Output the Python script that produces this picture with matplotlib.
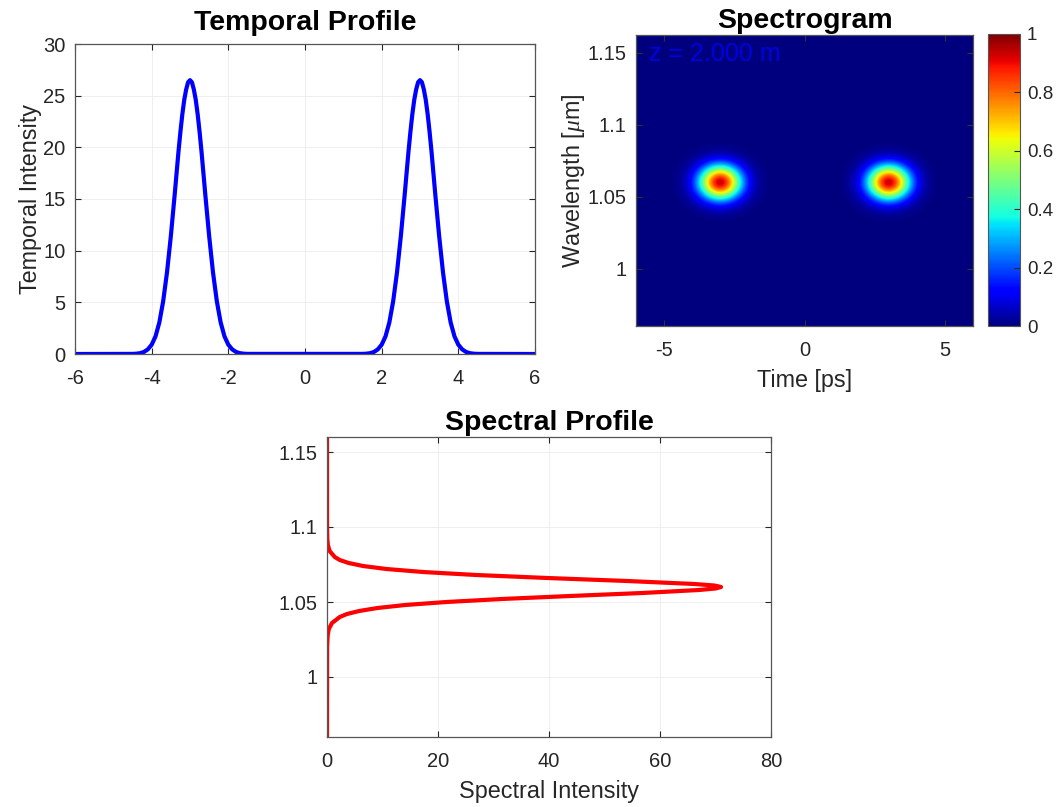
import numpy as np
import matplotlib
matplotlib.use("Agg")
import matplotlib.pyplot as plt
from matplotlib.ticker import FuncFormatter

# temporal profile: one pulse, repeated at both centers
pulse_centers = [-3.0, 3.0]
pulse_dt = [0.0, 0.05, 0.1, 0.15, 0.2, 0.25, 0.3, 0.4, 0.5, 0.6, 0.7, 0.8, 0.9, 1.0, 1.1, 1.2, 1.3, 1.4, 1.5]
pulse_val = [26.5, 26.3, 25.6, 24.6, 23.2, 21.5, 19.6, 15.4, 11.4, 7.9, 5.1, 3.05, 1.7, 0.9, 0.45, 0.2, 0.08, 0.03, 0.01]

# spectral profile (wavelength in um, intensity)
spec_wl = [0.96, 1.020, 1.028, 1.032, 1.036, 1.040, 1.042, 1.044, 1.046, 1.048, 1.050,
           1.052, 1.054, 1.056, 1.058, 1.059, 1.060, 1.061, 1.062, 1.064, 1.066, 1.068,
           1.070, 1.072, 1.074, 1.076, 1.078, 1.080, 1.084, 1.088, 1.092, 1.100, 1.16]
spec_int = [0.0, 0.02, 0.13, 0.33, 0.9, 2.3, 3.6, 5.8, 9.1, 14.1, 21.5,
            31.5, 43.8, 56.8, 67.0, 70.0, 71.0, 69.8, 66.2, 54.1, 39.7, 26.9,
            17.3, 10.7, 6.5, 3.9, 2.3, 1.4, 0.47, 0.16, 0.06, 0.01, 0.0]

# spectrogram blob: slices through the center
sg_center_wl = 1.06
sg_t_offsets = [0.0, 0.2, 0.4, 0.6, 0.8, 1.0, 1.2, 1.4, 1.6]
sg_t_vals = [1.0, 0.92, 0.73, 0.5, 0.3, 0.15, 0.065, 0.025, 0.008]
sg_wl_offsets = [0.0, 0.004, 0.008, 0.012, 0.016, 0.020, 0.024, 0.028]
sg_wl_vals = [1.0, 0.88, 0.61, 0.33, 0.14, 0.045, 0.011, 0.002]

t_ticks = [-6, -4, -2, 0, 2, 4, 6]
temp_yticks = [0, 5, 10, 15, 20, 25, 30]
wl_ticks = [1.0, 1.05, 1.1, 1.15]
cb_ticks = [0, 0.2, 0.4, 0.6, 0.8, 1]

plt.rcParams['font.family'] = ['Liberation Sans', 'DejaVu Sans']
plt.rcParams['axes.unicode_minus'] = False
plt.rcParams['mathtext.fontset'] = 'custom'
plt.rcParams['mathtext.it'] = 'Liberation Serif:italic'

TXT = '#262626'
FRAME = '#555555'
TICK_FS = 14.5
LABEL_FS = 16.8
TITLE_FS = 20.5


def matlab_style(ax, grid=True):
    ax.tick_params(direction='in', top=True, right=True, labelsize=TICK_FS,
                   colors=TXT, length=4, width=0.8)
    ax.tick_params(axis='x', pad=11)
    ax.tick_params(axis='y', pad=7)
    for s in ax.spines.values():
        s.set_color(FRAME)
        s.set_linewidth(0.9)
    if grid:
        ax.grid(True, color='#ececec', linewidth=0.6)
        ax.set_axisbelow(True)


fmt = FuncFormatter(lambda v, p: '%g' % round(v, 4))

fig = plt.figure(figsize=(10.56, 8.07), dpi=100)
W, H = 1056.0, 807.0


def rect(l, r, t, b):
    return [l / W, 1 - b / H, (r - l) / W, (b - t) / H]


# --- temporal profile
ax1 = fig.add_axes(rect(75, 535, 44, 354))
t = [-6.0]
y = [0.0]
for c in pulse_centers:
    for d, v in zip(pulse_dt[::-1], pulse_val[::-1]):
        t.append(c - d)
        y.append(v)
    for d, v in zip(pulse_dt[1:], pulse_val[1:]):
        t.append(c + d)
        y.append(v)
t.append(6.0)
y.append(0.0)
ax1.plot(t, y, color='blue', lw=3, solid_joinstyle='round')
ax1.set_xlim(-6, 6)
ax1.set_ylim(0, 30)
ax1.set_xticks(t_ticks)
ax1.set_yticks(temp_yticks)
ax1.xaxis.set_major_formatter(fmt)
matlab_style(ax1)
ax1.set_ylabel('Temporal Intensity', fontsize=LABEL_FS, color=TXT, labelpad=1)
ax1.set_title('Temporal Profile', fontsize=TITLE_FS, fontweight='bold', pad=10)

# --- spectrogram
ax2 = fig.add_axes(rect(636, 973, 35, 326))
t_grid = np.round(np.arange(-6.0, 6.0001, 0.2), 4)
wl_grid = np.round(np.arange(0.96, 1.1641, 0.004), 4)
tv = np.zeros(len(t_grid))
for c in pulse_centers:
    for d, v in zip(sg_t_offsets, sg_t_vals):
        for s in (c - d, c + d):
            i = int(round((s - t_grid[0]) / 0.2))
            if 0 <= i < len(tv):
                tv[i] = max(tv[i], v)
wv = np.zeros(len(wl_grid))
for d, v in zip(sg_wl_offsets, sg_wl_vals):
    for s in (sg_center_wl - d, sg_center_wl + d):
        i = int(round((s - wl_grid[0]) / 0.004))
        if 0 <= i < len(wv):
            wv[i] = max(wv[i], v)
Z = np.outer(wv, tv)
im = ax2.imshow(Z, origin='lower', cmap='jet', vmin=0, vmax=1, aspect='auto',
                interpolation='bicubic', interpolation_stage='data',
                extent=[t_grid[0] - 0.1, t_grid[-1] + 0.1, wl_grid[0] - 0.002, wl_grid[-1] + 0.002])
ax2.set_xlim(-6, 6)
ax2.set_ylim(0.96, 1.1625)
ax2.set_xticks([-5, 0, 5])
ax2.set_yticks(wl_ticks)
ax2.yaxis.set_major_formatter(fmt)
matlab_style(ax2, grid=False)
ax2.tick_params(colors='#333333', labelcolor=TXT)
ax2.set_xlabel('Time [ps]', fontsize=LABEL_FS, color=TXT, labelpad=6)
ax2.set_ylabel(r'Wavelength [$\mu$m]', fontsize=LABEL_FS, color=TXT, labelpad=0)
ax2.set_title('Spectrogram', fontsize=TITLE_FS, fontweight='bold', pad=5)
ax2.text(0.04, 0.935, 'z = 2.000 m', transform=ax2.transAxes, color='#0000e0',
         fontsize=18, va='center', ha='left')

cax = fig.add_axes(rect(988, 1020, 34, 326))
cb = fig.colorbar(im, cax=cax, ticks=cb_ticks)
cb.ax.yaxis.set_major_formatter(fmt)
cb.ax.tick_params(direction='in', labelsize=13.5, colors=TXT, length=4, pad=5)
cb.outline.set_edgecolor(FRAME)

# --- spectral profile
ax3 = fig.add_axes(rect(327, 771, 437, 737))
ax3.plot(spec_int, spec_wl, color='red', lw=3, solid_joinstyle='round')
ax3.set_xlim(0, 80)
ax3.set_ylim(0.96, 1.16)
ax3.set_xticks([0, 20, 40, 60, 80])
ax3.set_yticks(wl_ticks)
ax3.yaxis.set_major_formatter(fmt)
matlab_style(ax3)
ax3.set_xlabel('Spectral Intensity', fontsize=LABEL_FS, color=TXT, labelpad=6)
ax3.set_title('Spectral Profile', fontsize=TITLE_FS, fontweight='bold', pad=5)

fig.savefig('out.png', dpi=100, facecolor='white')
